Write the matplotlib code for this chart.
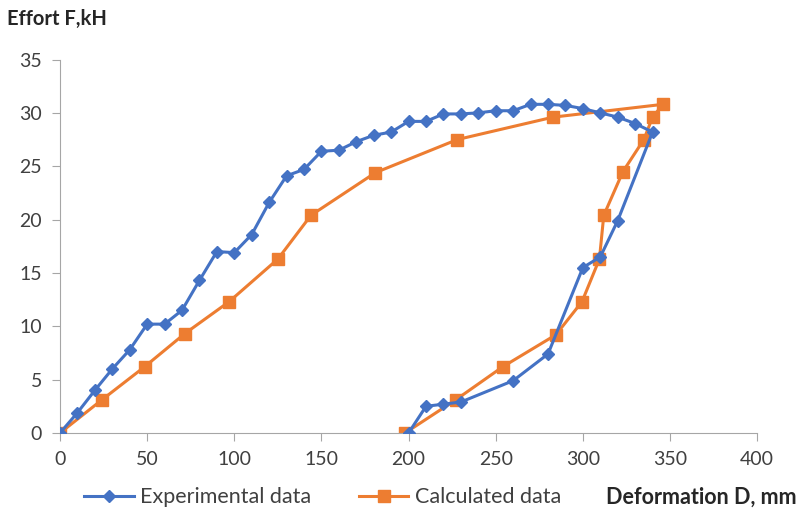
import numpy as np
import matplotlib.pyplot as plt

# experimental data (loading then unloading)
exp_d = [0, 10, 20, 30, 40, 50, 60, 70, 80, 90, 100, 110, 120, 130, 140, 150, 160, 170, 180, 190,
         200, 210, 220, 230, 240, 250, 260, 270, 280, 290, 300, 310, 320, 330, 340,
         320, 310, 300, 280, 260, 230, 220, 210, 200]
exp_f = [0, 1.9, 4.0, 6.0, 7.8, 10.2, 10.2, 11.5, 14.3, 17.0, 16.9, 18.6, 21.6, 24.1, 24.7, 26.4, 26.5, 27.3, 27.9, 28.2,
         29.2, 29.2, 29.9, 29.9, 30.0, 30.2, 30.2, 30.8, 30.8, 30.7, 30.4, 30.0, 29.6, 29.0, 28.2,
         19.9, 16.5, 15.5, 7.4, 4.9, 2.9, 2.7, 2.5, 0]

# calculated data
calc_d = [0, 24, 48.5, 71.5, 97, 125, 144, 181, 228, 283, 346,
          340, 335, 323, 312, 309.5, 299.5, 284.5, 254, 227, 198]
calc_f = [0, 3.1, 6.2, 9.3, 12.3, 16.3, 20.4, 24.4, 27.5, 29.6, 30.8,
          29.6, 27.5, 24.5, 20.4, 16.3, 12.3, 9.2, 6.2, 3.1, 0]

plt.rcParams['font.family'] = ['Lato', 'DejaVu Sans']

fig = plt.figure(figsize=(7.97, 5.13), dpi=100)
ax = fig.add_axes([0.0753, 0.156, 0.8747, 0.728])

ax.plot(calc_d, calc_f, color="#ED7D31", lw=2.2, marker="s", ms=8.5, label="Calculated data", zorder=2)
ax.plot(exp_d, exp_f, color="#4472C4", lw=2.2, marker="D", ms=6.5, label="Experimental data", zorder=3)

ax.set_xlim(0, 400)
ax.set_ylim(0, 35)
ax.set_xticks(np.arange(0, 401, 50))
ax.set_yticks(np.arange(0, 36, 5))
for s in ["top", "right"]:
    ax.spines[s].set_visible(False)
for s in ["left", "bottom"]:
    ax.spines[s].set_color("#A6A6A6")
ax.tick_params(colors="#A6A6A6", labelcolor="#404040", labelsize=14, length=6, pad=7)

fig.text(0.009, 0.963, "Effort F,kH", fontsize=14.5, fontweight="bold", color="#262626", va="center")
fig.text(0.999, 0.031, "Deformation D, mm", fontsize=15.5, fontweight="bold", color="#262626",
         ha="right", va="center")

h, l = ax.get_legend_handles_labels()
fig.legend(h[::-1], l[::-1], loc="center", bbox_to_anchor=(0.405, 0.031), ncol=2, frameon=False,
           fontsize=15.5, handlelength=2.3, handletextpad=0.3, columnspacing=2.2, labelcolor="#404040")

fig.savefig("out.png", dpi=100)
